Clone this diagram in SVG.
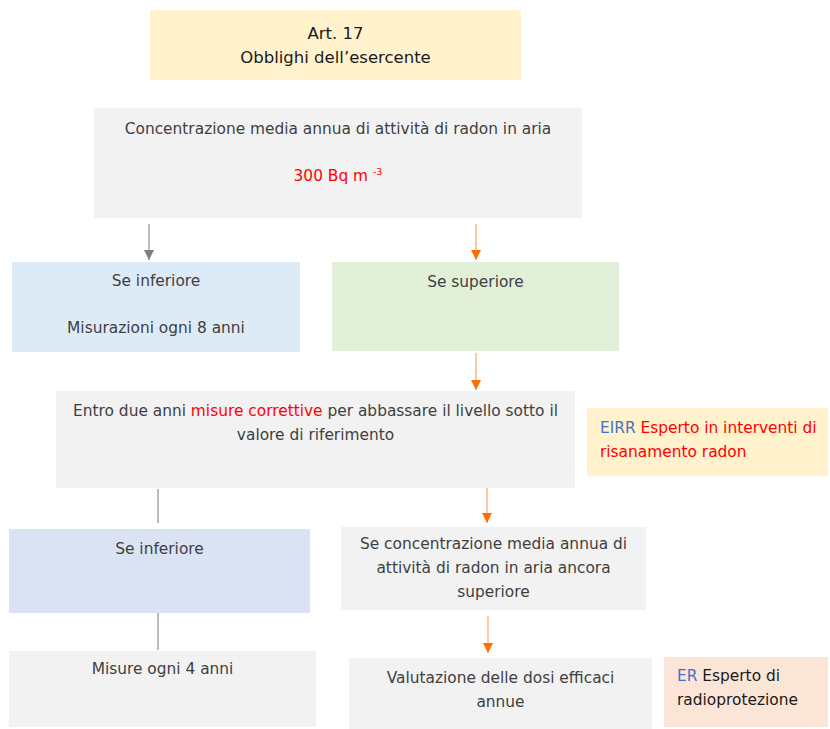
<svg xmlns="http://www.w3.org/2000/svg" width="830" height="729" viewBox="0 0 830 729">
<defs>
<style>
text{font-family:"DejaVu Sans","Verdana",sans-serif;font-size:15.4px;fill:#404040;text-anchor:middle}
.t{fill:#1a1a1a;font-size:16.5px}
.red{fill:#ff0000}
.blue{fill:#4472c4}
.l{text-anchor:start}
.g{fill:#f2f2f2}
.cg{stroke:#a6a6a6;stroke-width:1.5;fill:none}
.co{stroke:#f8a66a;stroke-width:1.2;fill:none}
</style>
<marker id="ag" viewBox="0 0 10 10" refX="10" refY="5" markerWidth="10" markerHeight="10" markerUnits="userSpaceOnUse" orient="auto"><path d="M0,0L10,5L0,10z" fill="#7f7f7f"/></marker>
<marker id="ao" viewBox="0 0 10 10" refX="10" refY="5" markerWidth="10" markerHeight="10" markerUnits="userSpaceOnUse" orient="auto"><path d="M0,0L10,5L0,10z" fill="#ff6d00"/></marker>
</defs>
<rect width="830" height="729" fill="#ffffff"/>
<g id="connectors">
<line class="cg" x1="149" y1="224" x2="149" y2="260" marker-end="url(#ag)"/>
<line class="co" x1="476" y1="224" x2="476" y2="260" marker-end="url(#ao)"/>
<line class="co" x1="476" y1="353" x2="476" y2="390" marker-end="url(#ao)"/>
<line class="cg" x1="158" y1="489" x2="158" y2="523"/>
<line class="co" x1="487" y1="486" x2="487" y2="523" marker-end="url(#ao)"/>
<line class="cg" x1="158" y1="611" x2="158" y2="650"/>
<line class="co" x1="488" y1="616" x2="488" y2="653" marker-end="url(#ao)"/>
</g>
<g id="n-art17"><rect x="150" y="10" width="371" height="70" fill="#fff2cc"/>
<text class="t" x="335.5" y="39">Art. 17</text><text class="t" x="335.5" y="63">Obblighi dell’esercente</text></g>
<g id="n-conc"><rect class="g" x="94" y="108" width="488" height="110"/>
<text x="338" y="134">Concentrazione media annua di attività di radon in aria</text>
<text x="338" y="181" class="red">300 Bq m <tspan font-size="9.5" dy="-6" class="red">-3</tspan></text></g>
<g id="n-inf1"><rect x="12" y="262" width="288" height="90" fill="#ddebf7"/>
<text x="156" y="286">Se inferiore</text><text x="156" y="333">Misurazioni ogni 8 anni</text></g>
<g id="n-sup1"><rect x="332" y="262" width="287" height="89" fill="#e2f0d9"/>
<text x="475.5" y="287">Se superiore</text></g>
<g id="n-entro"><rect class="g" x="56" y="391" width="519" height="97"/>
<text x="315.5" y="416">Entro due anni <tspan class="red">misure correttive</tspan> per abbassare il livello sotto il</text>
<text x="315.5" y="440">valore di riferimento</text></g>
<g id="n-eirr"><rect x="587" y="408" width="241" height="68" fill="#fff2cc"/>
<text class="l blue" x="600" y="433">EIRR <tspan class="red">Esperto in interventi di</tspan></text>
<text class="l red" x="600" y="457">risanamento radon</text></g>
<g id="n-inf2"><rect x="9" y="529" width="301" height="84" fill="#dae3f3"/>
<text x="159.5" y="554">Se inferiore</text></g>
<g id="n-sup2"><rect class="g" x="341" y="527" width="305" height="83"/>
<text x="493.5" y="549">Se concentrazione media annua di</text>
<text x="493.5" y="573">attività di radon in aria ancora</text>
<text x="493.5" y="597">superiore</text></g>
<g id="n-mis4"><rect class="g" x="9" y="651" width="307" height="76"/>
<text x="162.5" y="674">Misure ogni 4 anni</text></g>
<g id="n-val"><rect class="g" x="349" y="658" width="303" height="71"/>
<text x="500.5" y="683">Valutazione delle dosi efficaci</text><text x="500.5" y="707">annue</text></g>
<g id="n-er"><rect x="664" y="657" width="164" height="70" fill="#fbe5d6"/>
<text class="l blue" x="677" y="681">ER <tspan style="fill:#1a1a1a">Esperto di</tspan></text>
<text class="l" x="677" y="705" style="fill:#1a1a1a">radioprotezione</text></g>
</svg>
